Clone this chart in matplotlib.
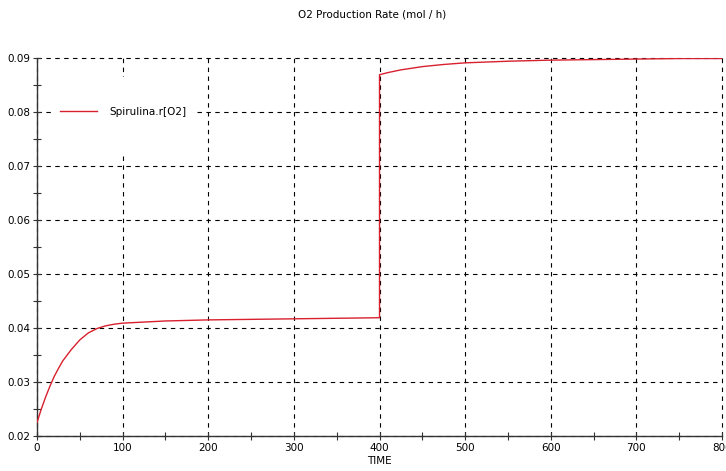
import matplotlib
matplotlib.use("Agg")
import matplotlib.pyplot as plt
from matplotlib.patches import Rectangle
from matplotlib.ticker import MultipleLocator

# time (h) and O2 production rate (mol / h)
time_phase1 = [0, 5, 10, 15, 20, 25, 30, 40, 50, 60, 70, 80, 90, 100,
               125, 150, 200, 250, 300, 350, 400]
rate_phase1 = [0.0225, 0.0250, 0.0272, 0.0292, 0.0310, 0.0325, 0.0339,
               0.0360, 0.0378, 0.0391, 0.0399, 0.0404, 0.0407, 0.0409,
               0.0411, 0.0413, 0.0415, 0.0416, 0.0417, 0.0418, 0.0419]
time_phase2 = [400, 410, 425, 450, 475, 500, 550, 600, 650, 700, 750, 800]
rate_phase2 = [0.0869, 0.0873, 0.0878, 0.0884, 0.0888, 0.0891, 0.0894,
               0.0896, 0.0897, 0.0898, 0.0899, 0.0899]

time = time_phase1 + time_phase2
rate = rate_phase1 + rate_phase2

series_label = "Spirulina.r[O2]"
title = "O2 Production Rate (mol / h)"
x_label = "TIME"

plt.rcParams["font.family"] = ["DejaVu Sans"]
plt.rcParams["font.size"] = 7.5

fig = plt.figure(figsize=(7.26, 4.71), dpi=100)
ax = fig.add_axes([0.051, 0.0743, 0.9435, 0.8026])

ax.plot(time, rate, color="#d8202e", linewidth=1.0, label=series_label, zorder=3)

ax.set_xlim(0, 800)
ax.set_ylim(0.02, 0.09)
ax.xaxis.set_major_locator(MultipleLocator(100))
ax.xaxis.set_minor_locator(MultipleLocator(50))
ax.yaxis.set_major_locator(MultipleLocator(0.01))
ax.yaxis.set_minor_locator(MultipleLocator(0.005))
ax.set_yticklabels([f"{v:.2f}" for v in ax.get_yticks()])

ax.tick_params(which="both", direction="inout", length=6, width=0.8,
               color="#333333", pad=2)
ax.grid(True, which="major", color="black", linestyle=(0, (4, 4)),
        linewidth=0.8, clip_on=False)

for side in ("top", "right"):
    ax.spines[side].set_visible(False)
for side in ("left", "bottom"):
    ax.spines[side].set_color("#333333")
    ax.spines[side].set_linewidth(1.0)

# white block behind the legend hides the grid there, like the original
ax.add_patch(Rectangle((0.022, 0.743), 0.206, 0.207, transform=ax.transAxes,
                       facecolor="white", edgecolor="none", zorder=1.8))
ax.legend(loc="center left", bbox_to_anchor=(0.027, 0.857), frameon=False,
          handlelength=3.6, handletextpad=1.15, borderaxespad=0,
          fontsize=7.5)

ax.set_xlabel(x_label, labelpad=2)
fig.text(0.512, 0.97, title, ha="center", va="center", fontsize=7.5)

fig.savefig("out.png", dpi=100)
